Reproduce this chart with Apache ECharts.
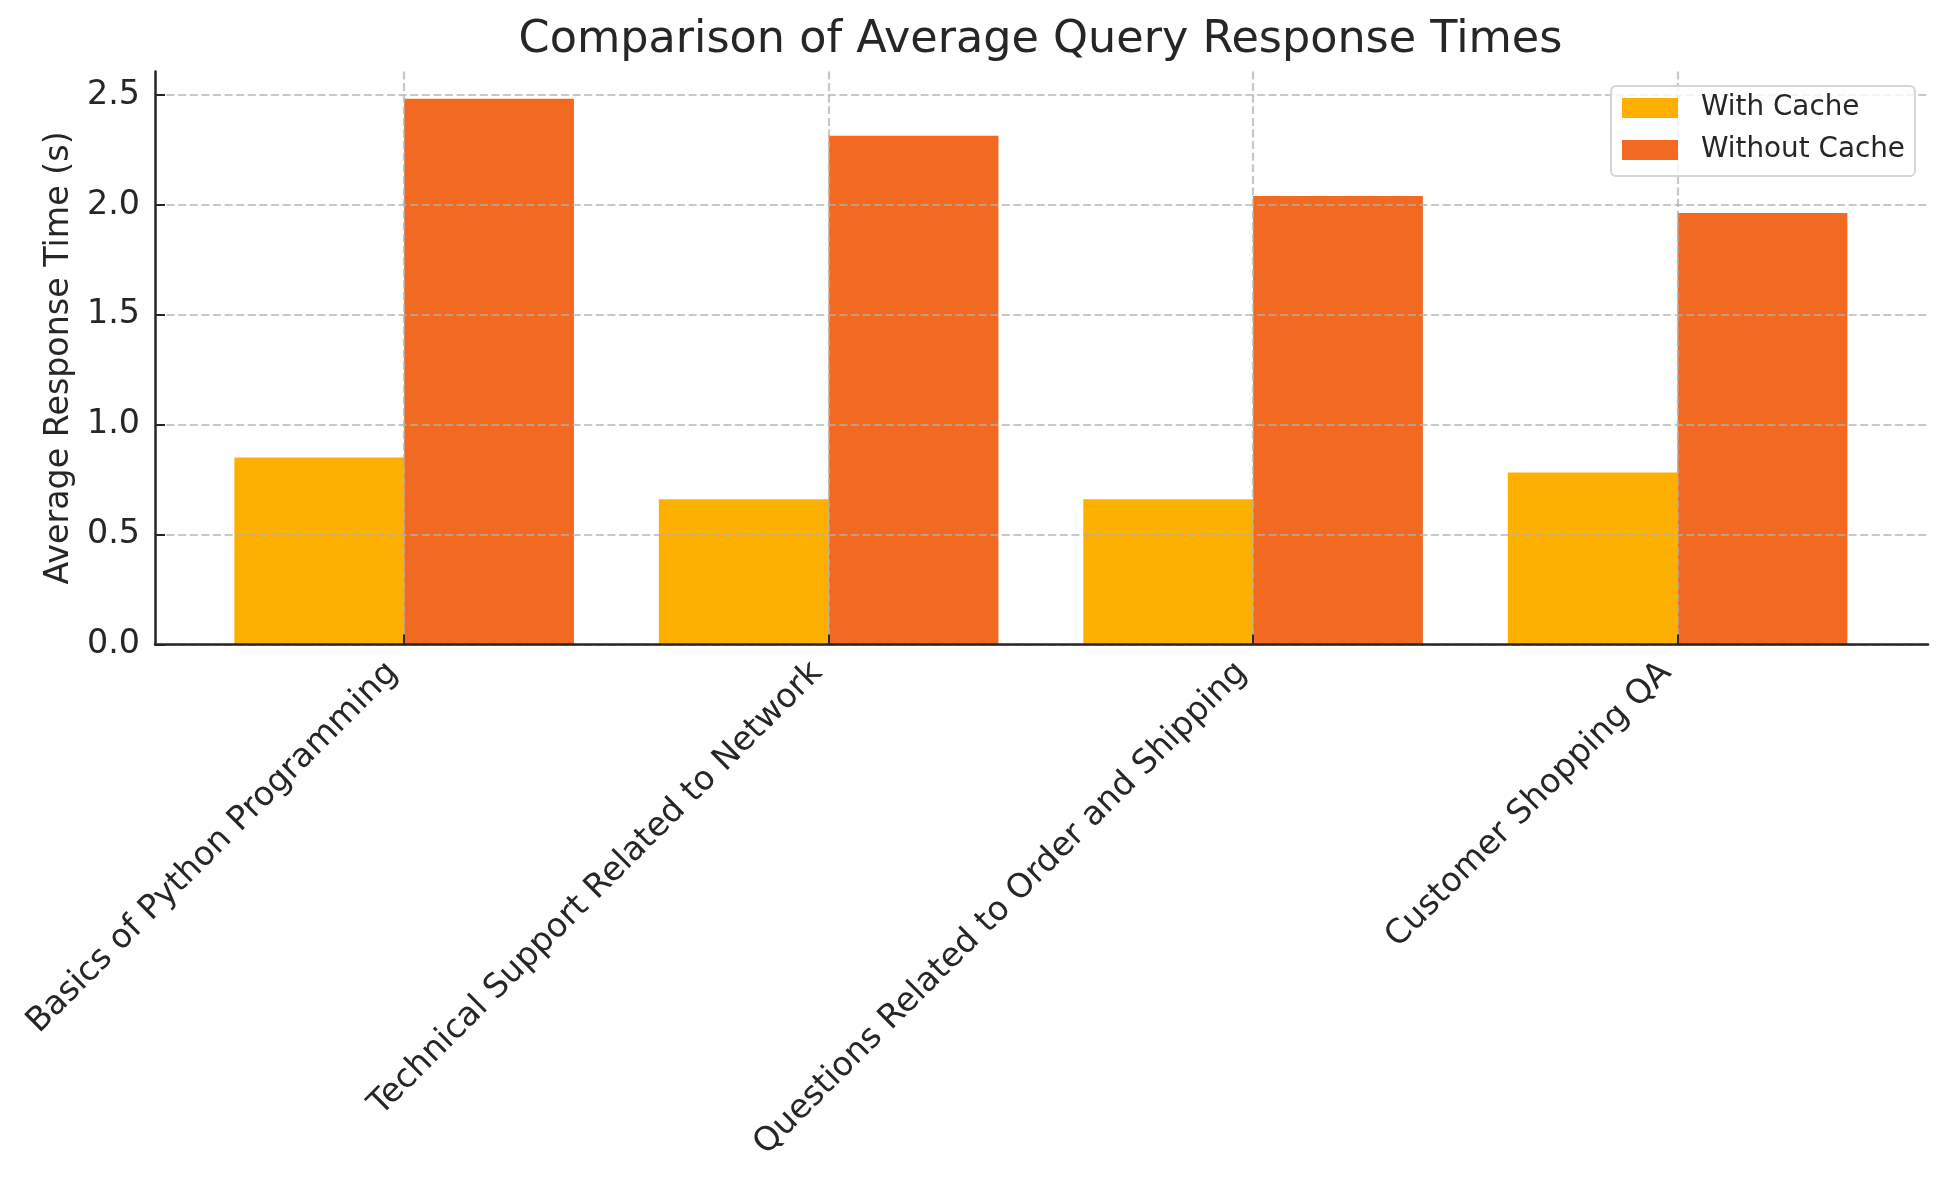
<!DOCTYPE html>
<html><head><meta charset="utf-8">
<script src="https://cdn.jsdelivr.net/npm/echarts@6/dist/echarts.min.js"></script>
<style>html,body{margin:0;padding:0;background:#fff}#c{width:1948px;height:1180px}</style>
</head><body><div id="c"></div>
<script>
const categories = ['Basics of Python Programming', 'Technical Support Related to Network', 'Questions Related to Order and Shipping', 'Customer Shopping QA'];
const withCache = [0.85, 0.66, 0.66, 0.782];
const withoutCache = [2.483, 2.315, 2.041, 1.963];
const yTicks = [0, 0.5, 1.0, 1.5, 2.0, 2.5];
const seriesNames = ['With Cache', 'Without Cache'];

const W = 1948, H = 1180;
const PL = 155, PR = 20, PT = 71.5, PB = 535.6;
const XMIN = -0.587, XMAX = 3.59, YMAX = 2.607;
const nCat = categories.length;
const plotW = W - PL - PR;
const ppu = plotW / (XMAX - XMIN);
const px = v => PL + (v - XMIN) * ppu;
const catLeft = px(-0.5);
const catRight = W - px(nCat - 0.5);
const ctrLeft = px(0);
const ctrRight = W - px(nCat - 1);

const TXT = '#262626', FONT = 'DejaVu Sans';
const YEL = '#FEB000', ORG = '#F26922';
const gridColor = 'rgba(176,176,176,0.7)';
const dash = [8, 3.6];

const chart = echarts.init(document.getElementById('c'), null, {renderer: 'canvas'});
const option = {
  animation: false,
  backgroundColor: '#fff',
  textStyle: {fontFamily: FONT},
  title: {
    text: 'Comparison of Average Query Response Times',
    left: PL + plotW / 2 - 6, textAlign: 'center', top: 13,
    textStyle: {fontFamily: FONT, fontSize: 44.5, fontWeight: 'normal', color: TXT}
  },
  legend: {
    orient: 'vertical', left: 1611, top: 86, z: 10,
    padding: [8, 10, 12, 11],
    itemWidth: 56, itemHeight: 20, itemGap: 14, icon: 'rect',
    backgroundColor: 'rgba(255,255,255,0.8)', borderColor: '#d5d5d5', borderWidth: 2, borderRadius: 5,
    textStyle: {fontFamily: FONT, fontSize: 27.8, color: TXT, lineHeight: 28, padding: [0, 0, 0, 18]},
    data: seriesNames
  },
  grid: [
    {left: PL, right: PR, top: PT, bottom: PB},
    {left: catLeft, right: catRight, top: PT, bottom: PB},
    {left: ctrLeft, right: ctrRight, top: PT, bottom: PB}
  ],
  xAxis: [
    {type: 'value', gridIndex: 0, min: XMIN, max: XMAX, z: 4,
      axisLine: {show: true, onZero: false, lineStyle: {color: TXT, width: 2.5}},
      axisTick: {show: false}, axisLabel: {show: false}, splitLine: {show: false}},
    {type: 'category', gridIndex: 1, data: categories, z: 4,
      axisLine: {show: false},
      axisTick: {show: true, alignWithLabel: true, inside: true, length: 10, lineStyle: {color: TXT, width: 2}},
      axisLabel: {rotate: 45, interval: 0, fontFamily: FONT, fontSize: 33.3, color: TXT, margin: 12, padding: [0, 16, 0, 0]},
      splitLine: {show: false}},
    {type: 'category', gridIndex: 2, data: categories, boundaryGap: false, z: 3,
      axisLine: {show: false}, axisTick: {show: false}, axisLabel: {show: false},
      splitLine: {show: true, interval: 0, lineStyle: {color: gridColor, width: 2.2, type: dash}}}
  ],
  yAxis: [
    {type: 'value', gridIndex: 0, min: 0, max: YMAX, interval: 0.5, z: 3,
      axisLine: {show: true, onZero: false, lineStyle: {color: TXT, width: 2.5}},
      axisTick: {show: true, inside: true, length: 10, customValues: yTicks, lineStyle: {color: TXT, width: 2}},
      axisLabel: {customValues: yTicks, formatter: v => v.toFixed(1), fontFamily: FONT, fontSize: 33.3, color: TXT, margin: 15},
      splitLine: {show: true, lineStyle: {color: yTicks.map(() => gridColor).concat(['rgba(0,0,0,0)']), width: 2.2, type: dash}},
      name: 'Average Response Time (s)', nameLocation: 'middle', nameGap: 76,
      nameTextStyle: {fontFamily: FONT, fontSize: 33.3, color: TXT}},
    {type: 'value', gridIndex: 1, min: 0, max: YMAX, show: false},
    {type: 'value', gridIndex: 2, min: 0, max: YMAX, show: false}
  ],
  series: [
    {name: seriesNames[0], type: 'bar', xAxisIndex: 1, yAxisIndex: 1, data: withCache,
      barGap: '0%', barCategoryGap: '20%', itemStyle: {color: YEL}},
    {name: seriesNames[1], type: 'bar', xAxisIndex: 1, yAxisIndex: 1, data: withoutCache,
      barGap: '0%', barCategoryGap: '20%', itemStyle: {color: ORG}}
  ]
};
chart.setOption(option);
</script></body></html>
